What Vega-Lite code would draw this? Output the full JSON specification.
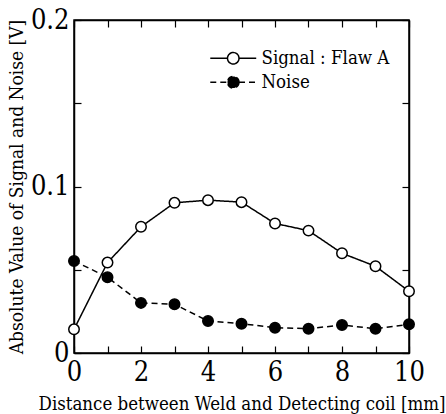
{
  "$schema": "https://vega.github.io/schema/vega-lite/v6.json",
  "autosize": "none",
  "width": 335,
  "height": 333,
  "padding": {"left": 74, "top": 20, "right": 37, "bottom": 61},
  "background": "white",
  "config": {
    "view": {"stroke": "black", "strokeWidth": 1.5},
    "font": "DejaVu Serif Condensed",
    "axis": {
      "domainColor": "black",
      "domainWidth": 1.5,
      "tickColor": "black",
      "tickWidth": 1.2,
      "tickSize": -7,
      "grid": false,
      "labelFont": "DejaVu Serif Condensed",
      "labelFontSize": 27,
      "labelColor": "black",
      "titleFont": "DejaVu Serif Condensed",
      "titleFontSize": 19,
      "titleFontWeight": "normal",
      "titleColor": "black"
    },
    "legend": {
      "labelFont": "DejaVu Serif Condensed",
      "labelFontSize": 18.5,
      "labelColor": "black"
    }
  },
  "data": {
    "values": [
      {"x": 0, "series": "Signal : Flaw A", "value": 0.0142},
      {"x": 1, "series": "Signal : Flaw A", "value": 0.0543},
      {"x": 2, "series": "Signal : Flaw A", "value": 0.0758},
      {"x": 3, "series": "Signal : Flaw A", "value": 0.0902},
      {"x": 4, "series": "Signal : Flaw A", "value": 0.0918},
      {"x": 5, "series": "Signal : Flaw A", "value": 0.0906},
      {"x": 6, "series": "Signal : Flaw A", "value": 0.0778},
      {"x": 7, "series": "Signal : Flaw A", "value": 0.0735},
      {"x": 8, "series": "Signal : Flaw A", "value": 0.0599},
      {"x": 9, "series": "Signal : Flaw A", "value": 0.0521},
      {"x": 10, "series": "Signal : Flaw A", "value": 0.0371},
      {"x": 0, "series": "Noise", "value": 0.0553},
      {"x": 1, "series": "Noise", "value": 0.0455},
      {"x": 2, "series": "Noise", "value": 0.0301},
      {"x": 3, "series": "Noise", "value": 0.0293},
      {"x": 4, "series": "Noise", "value": 0.0192},
      {"x": 5, "series": "Noise", "value": 0.0176},
      {"x": 6, "series": "Noise", "value": 0.0152},
      {"x": 7, "series": "Noise", "value": 0.0146},
      {"x": 8, "series": "Noise", "value": 0.0168},
      {"x": 9, "series": "Noise", "value": 0.0146},
      {"x": 10, "series": "Noise", "value": 0.0172}
    ]
  },
  "layer": [
    {
      "mark": {"type": "line", "color": "black", "strokeWidth": 1.5},
      "encoding": {
        "x": {
          "field": "x", "type": "quantitative",
          "scale": {"domain": [0, 10], "nice": false},
          "axis": {
            "orient": "bottom",
            "title": "Distance between Weld and Detecting coil [mm]",
            "titleFontSize": 18.5,
            "values": [0, 1, 2, 3, 4, 5, 6, 7, 8, 9, 10],
            "labelExpr": "datum.value % 2 == 0 ? format(datum.value, 'd') : ''",
            "labelPadding": 13,
            "labelFlush": false,
            "titlePadding": 9
          }
        },
        "y": {
          "field": "value", "type": "quantitative",
          "scale": {"domain": [0, 0.2], "nice": false},
          "axis": {
            "orient": "left",
            "title": "Absolute Value of Signal and Noise [V]",
            "values": [0, 0.05, 0.1, 0.15, 0.2],
            "labelExpr": "round(datum.value * 20) % 2 == 0 ? format(datum.value, '.1~f') : ''",
            "labelPadding": 12,
            "labelFlush": false,
            "titlePadding": 4
          }
        },
        "detail": {"field": "series"},
        "strokeDash": {
          "field": "series", "type": "nominal",
          "scale": {"domain": ["Signal : Flaw A", "Noise"], "range": [[1, 0], [6, 4]]},
          "legend": {
            "title": null,
            "orient": "none",
            "legendX": 150,
            "legendY": 29,
            "padding": 0,
            "rowPadding": 5,
            "labelOffset": 19,
            "symbolType": "M-4,0H-1M1,0H4M1,0A1,1 0 1,1 -1,0A1,1 0 1,1 1,0Z",
            "symbolSize": 132,
            "symbolStrokeColor": "black",
            "symbolStrokeWidth": 1.5
          }
        }
      }
    },
    {
      "mark": {"type": "point", "filled": true, "stroke": "black", "strokeWidth": 1.5, "size": 110, "shape": "circle", "opacity": 1},
      "encoding": {
        "x": {
          "field": "x", "type": "quantitative",
          "axis": {
            "orient": "top", "title": null, "labels": false,
            "values": [0, 1, 2, 3, 4, 5, 6, 7, 8, 9, 10]
          }
        },
        "y": {
          "field": "value", "type": "quantitative",
          "axis": {
            "orient": "right", "title": null, "labels": false,
            "values": [0, 0.05, 0.1, 0.15, 0.2]
          }
        },
        "fill": {
          "field": "series", "type": "nominal",
          "scale": {"domain": ["Signal : Flaw A", "Noise"], "range": ["white", "black"]},
          "legend": {
            "title": null,
            "orient": "none",
            "legendX": 150,
            "legendY": 29,
            "padding": 0,
            "rowPadding": 5,
            "labelOffset": 19,
            "symbolType": "M-4,0H-1M1,0H4M1,0A1,1 0 1,1 -1,0A1,1 0 1,1 1,0Z",
            "symbolSize": 132,
            "symbolStrokeColor": "black",
            "symbolStrokeWidth": 1.5
          }
        }
      }
    }
  ],
  "resolve": {"axis": {"x": "independent", "y": "independent"}}
}
